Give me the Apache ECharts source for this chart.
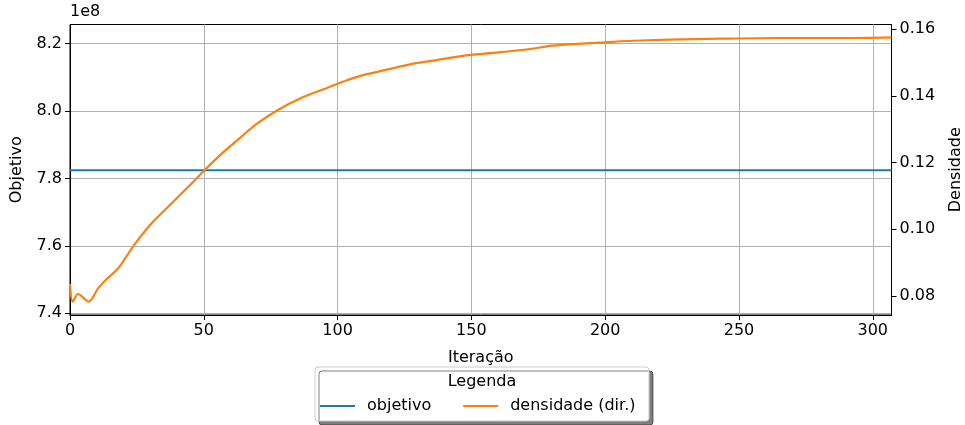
<!DOCTYPE html>
<html>
<head>
<meta charset="utf-8">
<script src="https://cdn.jsdelivr.net/npm/echarts@6/dist/echarts.min.js"></script>
<style>html,body{margin:0;padding:0;background:#fff;overflow:hidden}#c{width:965px;height:425px}</style>
</head>
<body>
<div id="c"></div>
<script>
// Data
const objIter = [0, 307];
const objValues = [782400000, 782400000];
const densIter = [0, 1, 3, 7, 10.5, 14, 18, 24, 30.5, 38, 47, 50, 56.5, 63, 70, 78, 86, 94, 103, 109.5, 119, 127, 137, 149, 159, 172, 180, 193, 200, 208, 224, 243, 264, 289, 307];
const densValues = [0.0836, 0.0783, 0.0806, 0.0783, 0.0823, 0.0853, 0.0883, 0.0953, 0.1018, 0.1078, 0.1150, 0.1175, 0.1225, 0.1270, 0.1317, 0.1359, 0.1392, 0.1417, 0.1445, 0.1462, 0.1479, 0.1494, 0.1507, 0.1522, 0.1529, 0.1540, 0.1550, 0.1557, 0.1560, 0.1564, 0.1568, 0.1571, 0.1573, 0.1573, 0.1575];
const xTicks = [0, 50, 100, 150, 200, 250, 300];
const yLeftTicks = [740000000, 760000000, 780000000, 800000000, 820000000];
const yRightTicks = [0.08, 0.10, 0.12, 0.14, 0.16];

const FONT = 'DejaVu Sans';
const FS = 16;
const chart = echarts.init(document.getElementById('c'));
const axisCommon = {
  axisLine: {show: true, lineStyle: {color: '#000', width: 1}},
  axisTick: {show: true, length: 5, lineStyle: {color: '#000', width: 1}},
  axisLabel: {color: '#000', fontFamily: FONT, fontSize: FS},
  nameTextStyle: {color: '#000', fontFamily: FONT, fontSize: FS}
};
chart.setOption({
  animation: false,
  backgroundColor: '#fff',
  grid: {left: 70, right: 73.5, top: 24.5, bottom: 110, show: true, borderColor: '#000', borderWidth: 1,
         backgroundColor: 'transparent', outerBoundsMode: 'none', containLabel: false},
  graphic: [
    {type: 'text', left: 70, top: 4, z: 10, style: {text: '1e8', font: FS + 'px "DejaVu Sans"', fill: '#000'}},
    {type: 'rect', z: 1, shape: {x: 315, y: 367, width: 334, height: 54, r: 3},
     style: {fill: '#fff', stroke: '#cccccc', lineWidth: 1, shadowColor: 'rgba(0,0,0,0.5)', shadowBlur: 0, shadowOffsetX: 4, shadowOffsetY: 4}},
    {type: 'text', z: 10, x: 482, y: 382, style: {text: 'Legenda', font: FS + 'px "DejaVu Sans"', fill: '#000', align: 'center', verticalAlign: 'middle'}}
  ],
  legend: {
    left: 320, top: 398, z: 20,
    data: ['objetivo', 'densidade (dir.)'],
    icon: 'rect',
    padding: 0,
    itemWidth: 35, itemHeight: 2, itemGap: 32,
    textStyle: {color: '#000', fontFamily: FONT, fontSize: FS, padding: [0, 0, 0, 7]},
    backgroundColor: 'transparent', borderWidth: 0
  },
  xAxis: Object.assign({}, axisCommon, {
    type: 'value', min: 0, max: 307,
    name: 'Iteração', nameLocation: 'middle', nameGap: 35,
    axisTick: Object.assign({}, axisCommon.axisTick, {customValues: xTicks}),
    axisLabel: Object.assign({}, axisCommon.axisLabel, {customValues: xTicks, margin: 8}),
    splitLine: {show: true, lineStyle: {color: '#b0b0b0', width: 1}}
  }),
  yAxis: [
    Object.assign({}, axisCommon, {
      type: 'value', min: 739500000, max: 825600000, position: 'left',
      name: 'Objetivo', nameLocation: 'middle', nameGap: 45,
      axisTick: Object.assign({}, axisCommon.axisTick, {customValues: yLeftTicks}),
      axisLabel: Object.assign({}, axisCommon.axisLabel, {customValues: yLeftTicks, margin: 8, formatter: v => (v / 1e8).toFixed(1)}),
      splitLine: {show: true, lineStyle: {color: '#b0b0b0', width: 1}}
    }),
    Object.assign({}, axisCommon, {
      type: 'value', min: 0.07431, max: 0.16135, position: 'right',
      name: 'Densidade', nameLocation: 'middle', nameGap: 56, nameRotate: 90,
      axisTick: Object.assign({}, axisCommon.axisTick, {customValues: yRightTicks}),
      axisLabel: Object.assign({}, axisCommon.axisLabel, {customValues: yRightTicks, margin: 8, formatter: v => v.toFixed(2)}),
      splitLine: {show: false}
    })
  ],
  series: [
    {name: 'objetivo', type: 'line', yAxisIndex: 0, symbol: 'none', color: '#1f77b4',
     lineStyle: {width: 2.2, color: '#1f77b4'}, data: objIter.map((x, i) => [x, objValues[i]])},
    {name: 'densidade (dir.)', type: 'line', yAxisIndex: 1, symbol: 'none', color: '#ff7f0e', smooth: 0.3,
     lineStyle: {width: 2.2, color: '#ff7f0e'}, data: densIter.map((x, i) => [x, densValues[i]])}
  ]
});
</script>
</body>
</html>
